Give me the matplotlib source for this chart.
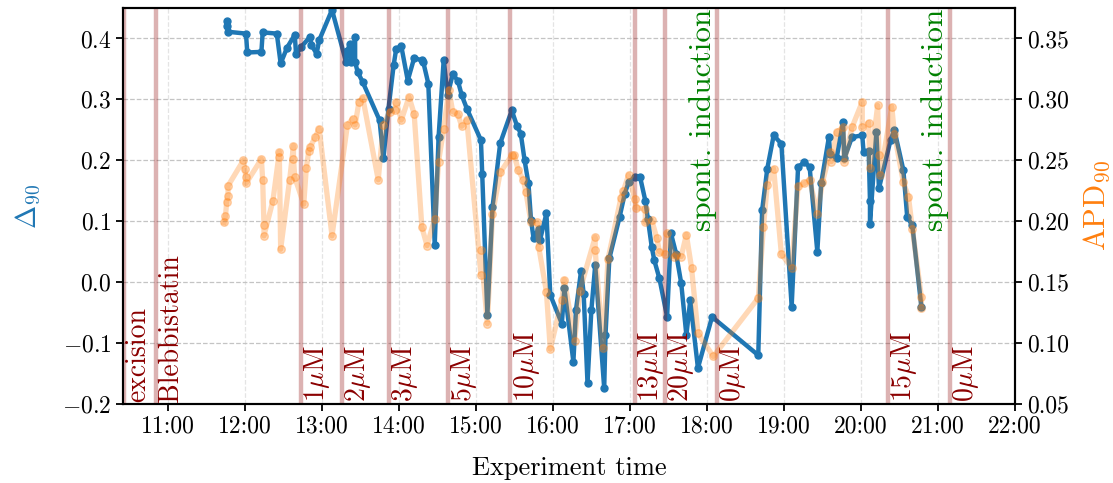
import matplotlib
matplotlib.use("Agg")
import matplotlib.pyplot as plt
from matplotlib.ticker import FixedLocator, FuncFormatter, MultipleLocator

plt.rcParams.update({
    "font.family": "serif",
    "font.serif": ["cmr10"],
    "mathtext.fontset": "cm",
    "axes.formatter.use_mathtext": True,
    "font.size": 17,
})

# Delta_90 measurements (time of day, value)
delta_times = ["11:46", "11:46", "11:47", "12:01", "12:02", "12:13", "12:14", "12:25", "12:28", "12:33",
               "12:39", "12:40", "12:44", "12:51", "12:52", "12:56", "12:58", "13:08", "13:19", "13:20",
               "13:22", "13:23", "13:26", "13:26", "13:28", "13:32", "13:45", "13:48", "13:52", "13:56",
               "13:58", "14:02", "14:07", "14:12", "14:18", "14:19", "14:23", "14:28", "14:31", "14:35",
               "14:38", "14:42", "14:46", "14:49", "14:53", "15:04", "15:05", "15:09", "15:13", "15:19",
               "15:28", "15:32", "15:35", "15:38", "15:41", "15:43", "15:45", "15:49", "15:50", "15:55",
               "15:58", "16:07", "16:09", "16:16", "16:18", "16:22", "16:24", "16:27", "16:30", "16:33",
               "16:40", "16:41", "16:44", "16:52", "16:56", "16:59", "17:04", "17:08", "17:12", "17:14",
               "17:17", "17:19", "17:23", "17:29", "17:32", "17:36", "17:40", "17:44", "17:47", "17:53",
               "18:04", "18:40", "18:43", "18:47", "18:52", "18:58", "19:06", "19:11", "19:16", "19:20",
               "19:26", "19:29", "19:35", "19:36", "19:41", "19:46", "19:47", "19:53", "20:01", "20:02",
               "20:06", "20:07", "20:07", "20:12", "20:14", "20:23", "20:26", "20:33", "20:36", "20:40",
               "20:47"]
delta_vals = [0.428, 0.421, 0.411, 0.408, 0.377, 0.378, 0.410, 0.408, 0.359, 0.385,
              0.406, 0.374, 0.386, 0.403, 0.389, 0.375, 0.397, 0.447, 0.361, 0.380,
              0.391, 0.362, 0.402, 0.361, 0.345, 0.328, 0.266, 0.203, 0.285, 0.356,
              0.383, 0.387, 0.331, 0.368, 0.364, 0.362, 0.326, 0.061, 0.238, 0.365,
              0.307, 0.341, 0.331, 0.307, 0.285, 0.233, 0.177, -0.054, 0.123, 0.228,
              0.282, 0.257, 0.244, 0.200, 0.162, 0.102, 0.072, 0.088, 0.069, 0.113,
              -0.021, -0.068, -0.010, -0.131, -0.046, 0.019, -0.019, -0.166, -0.046, 0.028,
              -0.174, -0.087, 0.039, 0.107, 0.145, 0.164, 0.173, 0.172, 0.134, 0.104,
              0.058, 0.036, 0.006, -0.057, 0.080, 0.047, -0.002, -0.087, -0.030, -0.141,
              -0.057, -0.120, 0.118, 0.186, 0.241, 0.227, -0.040, 0.189, 0.197, 0.189,
              0.050, 0.162, 0.238, 0.211, 0.203, 0.263, 0.203, 0.238, 0.241, 0.214,
              0.216, 0.134, 0.096, 0.246, 0.154, 0.233, 0.250, 0.184, 0.107, 0.093,
              -0.040]

# APD_90 measurements (time of day, value)
apd_times = ["11:44", "11:45", "11:46", "11:47", "11:47", "11:59", "12:00", "12:01", "12:01", "12:13",
             "12:14", "12:15", "12:15", "12:22", "12:27", "12:27", "12:28", "12:35", "12:38", "12:38",
             "12:39", "12:46", "12:48", "12:50", "12:51", "12:55", "12:58", "13:08", "13:20", "13:24",
             "13:26", "13:29", "13:32", "13:44", "13:48", "13:53", "13:57", "13:58", "14:02", "14:08",
             "14:12", "14:18", "14:22", "14:28", "14:31", "14:35", "14:39", "14:42", "14:46", "14:49",
             "14:53", "15:04", "15:04", "15:09", "15:13", "15:19", "15:28", "15:30", "15:33", "15:37",
             "15:39", "15:43", "15:48", "15:49", "15:55", "15:58", "16:07", "16:09", "16:17", "16:21",
             "16:33", "16:33", "16:39", "16:43", "16:53", "16:55", "16:59", "17:04", "17:05", "17:12",
             "17:12", "17:17", "17:21", "17:23", "17:27", "17:29", "17:34", "17:36", "17:40", "17:44",
             "17:48", "17:53", "18:05", "18:40", "18:44", "18:47", "18:52", "18:58", "19:06", "19:11",
             "19:16", "19:20", "19:26", "19:30", "19:36", "19:37", "19:41", "19:46", "19:47", "19:53",
             "20:01", "20:01", "20:06", "20:07", "20:13", "20:14", "20:15", "20:24", "20:26", "20:33",
             "20:37", "20:40", "20:47", "20:47"]
apd_vals = [0.199, 0.204, 0.216, 0.221, 0.229, 0.250, 0.243, 0.236, 0.231, 0.251,
            0.234, 0.197, 0.188, 0.217, 0.257, 0.253, 0.177, 0.234, 0.262, 0.251,
            0.236, 0.214, 0.244, 0.258, 0.261, 0.269, 0.276, 0.188, 0.279, 0.284,
            0.279, 0.298, 0.301, 0.234, 0.279, 0.290, 0.291, 0.298, 0.283, 0.302,
            0.288, 0.195, 0.180, 0.202, 0.249, 0.276, 0.308, 0.290, 0.288, 0.278,
            0.283, 0.156, 0.176, 0.116, 0.206, 0.240, 0.254, 0.254, 0.242, 0.234,
            0.224, 0.199, 0.199, 0.179, 0.142, 0.095, 0.135, 0.152, 0.102, 0.143,
            0.187, 0.176, 0.096, 0.169, 0.219, 0.225, 0.238, 0.218, 0.211, 0.210,
            0.199, 0.201, 0.186, 0.175, 0.173, 0.190, 0.171, 0.172, 0.171, 0.189,
            0.162, 0.108, 0.089, 0.137, 0.195, 0.230, 0.243, 0.173, 0.162, 0.229,
            0.231, 0.234, 0.206, 0.232, 0.257, 0.249, 0.273, 0.277, 0.249, 0.277,
            0.298, 0.277, 0.281, 0.244, 0.295, 0.254, 0.238, 0.294, 0.272, 0.232,
            0.220, 0.194, 0.138, 0.129]

# Protocol events
event_times = ["10:26", "10:51", "12:44", "13:16", "13:52", "14:38", "15:27",
               "17:04", "17:27", "18:08", "20:21", "21:09"]
event_labels = ["excision", "Blebbistatin", r"1$\mu$M", r"2$\mu$M", r"3$\mu$M", r"5$\mu$M",
                r"10$\mu$M", r"13$\mu$M", r"20$\mu$M", r"0$\mu$M", r"15$\mu$M", r"0$\mu$M"]
induction_times = ["18:08", "21:09"]
induction_label = "spont. induction"

hour_ticks = list(range(11, 23))


def to_hours(t):
    h, m = t.split(":")
    return int(h) + int(m) / 60.0


BLUE = "#1f77b4"
ORANGE = "#ff7f0e"

fig = plt.figure(figsize=(11.13, 4.83), dpi=100)
ax1 = fig.add_axes([0.1105, 0.1636, 0.8015, 0.8198])
ax2 = ax1.twinx()

ax1.plot([to_hours(t) for t in delta_times], delta_vals, "-o", color=BLUE,
         lw=3.2, ms=5, zorder=2)
ax2.plot([to_hours(t) for t in apd_times], apd_vals, "-o", color=ORANGE,
         lw=3.8, ms=5.5, alpha=0.3, zorder=2)

for t, lab in zip(event_times, event_labels):
    x = to_hours(t)
    ax1.axvline(x, color="darkred", alpha=0.3, lw=3.2, zorder=3)
    ax1.text(x + 0.015, -0.196, lab, rotation=90, ha="left", va="bottom",
             color="darkred", fontsize=20, zorder=4)

for t in induction_times:
    x = to_hours(t)
    ax1.text(x - 0.005, 0.449, induction_label, rotation=90, ha="right", va="top",
             color="green", fontsize=22.5, zorder=4)

ax1.set_xlim(10.42, 22.0)
ax1.set_ylim(-0.2, 0.45)
ax2.set_ylim(0.05, 0.375)

ax1.xaxis.set_major_locator(FixedLocator(hour_ticks))
ax1.xaxis.set_major_formatter(FuncFormatter(lambda v, p: f"{int(round(v)):02d}:00"))
ax1.yaxis.set_major_locator(MultipleLocator(0.1))
ax2.yaxis.set_major_locator(MultipleLocator(0.05))
ax2.yaxis.set_major_formatter(FuncFormatter(lambda v, p: f"{v:.2f}"))

ax1.xaxis.grid(True, color="#e4e4e4", ls="--", lw=0.9)
ax1.yaxis.grid(True, color="#c4c4c4", ls="--", lw=0.9)
ax1.set_axisbelow(True)

for ax in (ax1, ax2):
    for s in ax.spines.values():
        s.set_linewidth(1.5)
    ax.tick_params(direction="out", length=5, width=1.3, labelsize=17)

ax1.set_xlabel("Experiment time", fontsize=19, labelpad=13)
ax1.set_ylabel(r"$\Delta_{90}$", color=BLUE, fontsize=20, labelpad=14)
ax2.set_ylabel(r"APD$_{90}$", color=ORANGE, fontsize=22, labelpad=9)

fig.savefig("out.png", dpi=100)
